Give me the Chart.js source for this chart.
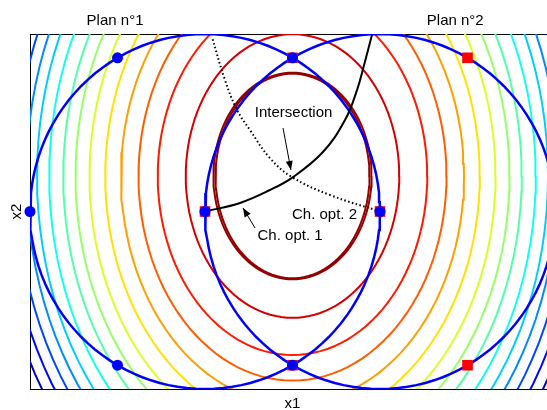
<!DOCTYPE html>
<html>
<head>
<meta charset="utf-8">
<script src="https://cdn.jsdelivr.net/npm/chart.js@4.4.1/dist/chart.umd.min.js"></script>
<style>
	html, body { margin: 0; padding: 0; overflow: hidden; background: #fff; }
	canvas { display: block; }
</style>
</head>
<body>
<canvas id="planChart" width="565" height="410"></canvas>
<script>
	// Doehlert plans (x1, x2)
	const plan1X = [0, 0.5, -0.5, -1, -0.5, 0.5, 1];
	const plan1Y = [0, 0.866, 0.866, 0, -0.866, -0.866, 0];
	const plan2X = [1, 1.5, 0.5, 0, 0.5, 1.5, 2];
	const plan2Y = [0, 0.866, 0.866, 0, -0.866, -0.866, 0];

	// experimental domains (circles)
	const domainCenterX = [0, 1];
	const domainCenterY = [0, 0];
	const domainRadius = [1, 1];

	// iso-response curves : centre + x semi-axis per level (inner -> outer)
	const isoCenterX = 0.5;
	const isoCenterY = 0.2;
	const isoRadiusX = [0.44, 0.61, 0.77, 0.88, 0.98, 1.07, 1.16, 1.24, 1.31, 1.39, 1.46, 1.52, 1.58, 1.64, 1.70, 1.76];
	const isoRatioY = 1.31;
	// second trace of the innermost level (drawn twice in the original)
	const isoInnerCopyX = 0.452;
	const isoInnerCopyY = 0.582;

	// optimal paths
	const path1X = [0, 0.2, 0.371, 0.503, 0.674, 0.8, 0.869, 0.909, 0.954];
	const path1Y = [0, 0.048, 0.121, 0.194, 0.335, 0.515, 0.685, 0.825, 0.994];
	const path2X = [1, 0.714, 0.497, 0.371, 0.257, 0.183, 0.114, 0.04];
	const path2Y = [0, 0.093, 0.194, 0.301, 0.459, 0.572, 0.741, 0.983];

	// labels
	const planLabels = ['Plan n°1', 'Plan n°2'];
	const planLabelX = [-0.514, 1.43];
	const noteTexts = ['Intersection', 'Ch. opt. 1', 'Ch. opt. 2'];
	const noteX = [0.506, 0.486, 0.683];
	const noteY = [0.555, -0.14, -0.02];
	const arrowFromX = [0.446, 0.286];
	const arrowFromY = [0.470, -0.093];
	const arrowToX = [0.491, 0.217];
	const arrowToY = [0.234, 0.020];

	const FONT = '15px "Liberation Sans", Arial, sans-serif';

	let jet = (t) => {
		let c = (v) => Math.round(255 * Math.max(0, Math.min(1, v)));
		return `rgb(${c(1.5 - Math.abs(4 * t - 3))}, ${c(1.5 - Math.abs(4 * t - 2))}, ${c(1.5 - Math.abs(4 * t - 1))})`;
	};

	let ellipse = (cx, cy, rx, ry) => {
		let pts = [];
		for (let k = 0; k <= 120; k++) {
			let a = k / 120 * Math.PI * 2;
			pts.push({ x: cx + rx * Math.cos(a), y: cy + ry * Math.sin(a) });
		}
		return pts;
	};

	let toPoints = (xs, ys) => xs.map((x, i) => ({ x: x, y: ys[i] }));

	/**
	 * frame, titles and arrows
	 */
	const notesPlugin = {
		id: 'notes',
		beforeDatasetsDraw(chart) {
			let { ctx, chartArea: a } = chart;
			ctx.save();
			ctx.strokeStyle = '#000';
			ctx.lineWidth = 1;
			ctx.strokeRect(a.left + 0.5, a.top + 0.5, a.right - a.left, a.bottom - a.top);
			ctx.restore();
		},
		afterDatasetsDraw(chart) {
			let { ctx, chartArea: a, scales } = chart;
			let sx = scales.x, sy = scales.y;
			ctx.save();
			ctx.fillStyle = '#000';
			ctx.strokeStyle = '#000';
			ctx.font = FONT;
			ctx.textAlign = 'center';
			ctx.textBaseline = 'middle';

			planLabels.forEach((t, i) => ctx.fillText(t, sx.getPixelForValue(planLabelX[i]), a.top - 13));
			noteTexts.forEach((t, i) => ctx.fillText(t, sx.getPixelForValue(noteX[i]), sy.getPixelForValue(noteY[i])));

			ctx.fillText('x1', (a.left + a.right) / 2, a.bottom + 15);
			ctx.save();
			ctx.translate(a.left - 13, (a.top + a.bottom) / 2);
			ctx.rotate(-Math.PI / 2);
			ctx.fillText('x2', 0, 0);
			ctx.restore();

			ctx.lineWidth = 1;
			arrowFromX.forEach((fx, i) => {
				let x0 = sx.getPixelForValue(fx), y0 = sy.getPixelForValue(arrowFromY[i]);
				let x1 = sx.getPixelForValue(arrowToX[i]), y1 = sy.getPixelForValue(arrowToY[i]);
				let ang = Math.atan2(y1 - y0, x1 - x0);
				ctx.beginPath();
				ctx.moveTo(x0, y0);
				ctx.lineTo(x1, y1);
				ctx.stroke();
				ctx.beginPath();
				ctx.moveTo(x1, y1);
				ctx.lineTo(x1 - 9 * Math.cos(ang) + 3.5 * Math.sin(ang), y1 - 9 * Math.sin(ang) - 3.5 * Math.cos(ang));
				ctx.lineTo(x1 - 9 * Math.cos(ang) - 3.5 * Math.sin(ang), y1 - 9 * Math.sin(ang) + 3.5 * Math.cos(ang));
				ctx.closePath();
				ctx.fill();
			});
			ctx.restore();
		}
	};

	let datasets = [];

	// plan 1 points (on top)
	datasets.push({
		data: toPoints(plan1X, plan1Y),
		showLine: false,
		pointStyle: 'circle',
		pointRadius: 5.5,
		pointBackgroundColor: '#0000ff',
		pointBorderColor: '#0000ff',
		pointBorderWidth: 0,
		clip: false
	});
	// plan 2 points
	datasets.push({
		data: toPoints(plan2X, plan2Y),
		showLine: false,
		pointStyle: 'rect',
		pointRadius: 7.5,
		pointBackgroundColor: '#ff0000',
		pointBorderColor: '#ff0000',
		pointBorderWidth: 0,
		clip: false
	});
	// optimal paths
	datasets.push({
		data: toPoints(path1X, path1Y),
		showLine: true,
		pointRadius: 0,
		borderColor: '#000',
		borderWidth: 2,
		tension: 0.4,
		clip: 0
	});
	datasets.push({
		data: toPoints(path2X, path2Y),
		showLine: true,
		pointRadius: 0,
		borderColor: '#000',
		borderWidth: 2,
		borderDash: [1.5, 2.5],
		tension: 0.4,
		clip: 0
	});
	// domains
	domainCenterX.forEach((cx, i) => {
		datasets.push({
			data: ellipse(cx, domainCenterY[i], domainRadius[i], domainRadius[i]),
			showLine: true,
			pointRadius: 0,
			borderColor: '#0000ff',
			borderWidth: 2.5,
			tension: 0,
			clip: 0
		});
	});
	// iso-response curves
	isoRadiusX.forEach((rx, i) => {
		datasets.push({
			data: ellipse(isoCenterX, isoCenterY, rx, rx * isoRatioY),
			showLine: true,
			pointRadius: 0,
			borderColor: jet((15 - i) / 15.3),
			borderWidth: 2,
			tension: 0,
			clip: 0
		});
	});
	datasets.push({
		data: ellipse(isoCenterX, isoCenterY, isoInnerCopyX, isoInnerCopyY),
		showLine: true,
		pointRadius: 0,
		borderColor: jet(15 / 15.3),
		borderWidth: 2,
		tension: 0,
		clip: 0
	});

	let config = {
		type: 'scatter',
		data: { datasets: datasets },
		options: {
			responsive: false,
			maintainAspectRatio: false,
			animation: false,
			events: [],
			layout: { padding: { left: 30, top: 34, right: 10, bottom: 21 } },
			plugins: { legend: { display: false }, tooltip: { enabled: false } },
			scales: {
				x: { type: 'linear', min: -1, max: 2, display: false },
				y: { type: 'linear', min: -1, max: 1, display: false }
			}
		},
		plugins: [notesPlugin]
	};

	new Chart(document.getElementById('planChart'), config);
</script>
</body>
</html>
